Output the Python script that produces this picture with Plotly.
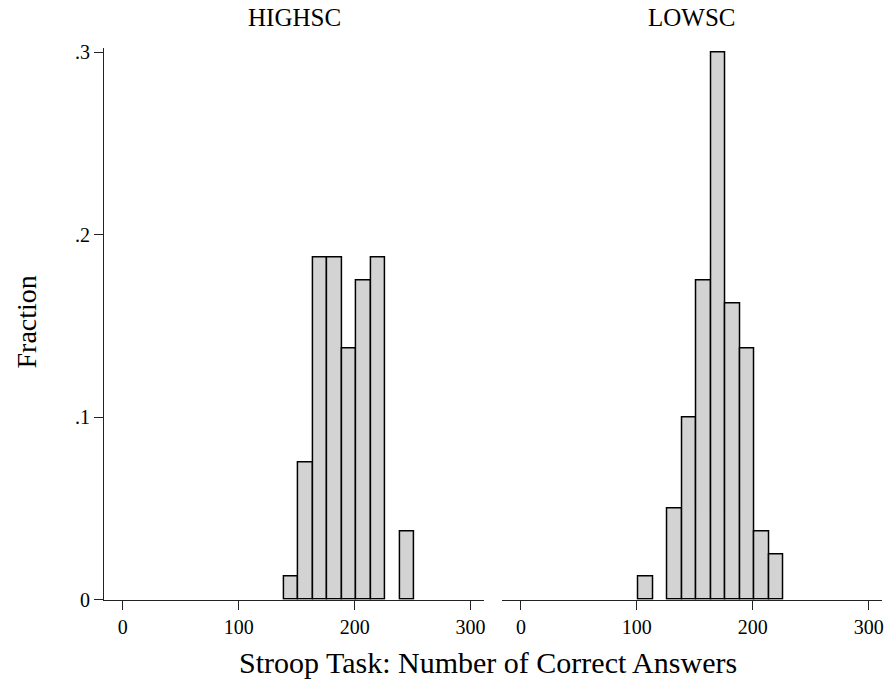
import plotly.graph_objects as go

# Data: histogram bins (width 12.5) and counts (N=80 per group)
bin_start = 101.5
bin_width = 12.5
highsc_counts = [0, 0, 0, 1, 6, 15, 15, 11, 14, 15, 0, 3]
lowsc_counts = [1, 0, 4, 8, 14, 24, 13, 11, 3, 2, 0, 0]
panel_titles = ["HIGHSC", "LOWSC"]
x_ticks = [0, 100, 200, 300]
y_ticks = [0, 0.1, 0.2, 0.3]
y_tick_labels = ["0", ".1", ".2", ".3"]

FONT = "Liberation Serif"
W, H = 886, 688


def bars(counts):
    n = sum(counts)
    xs, ys = [], []
    for i, c in enumerate(counts):
        if c > 0:
            xs.append(bin_start + bin_width * (i + 0.5))
            ys.append(c / n)
    return xs, ys


fig = go.Figure()
for k, counts in enumerate([highsc_counts, lowsc_counts]):
    xs, ys = bars(counts)
    fig.add_trace(go.Bar(
        x=xs, y=ys, width=bin_width,
        marker=dict(color="#d3d3d3", line=dict(color="black", width=1.5)),
        xaxis="x" if k == 0 else "x2",
        yaxis="y" if k == 0 else "y2",
        showlegend=False,
    ))

xr = [-16.1, 311.5]
yr = [0, 0.302]
ydom = [(H - 608.6) / H, (H - 42.6) / H]
left_dom = [104.4 / W, 485.0 / W]
right_dom = [503.4 / W, 884.0 / W]
common_x = dict(range=xr, tickvals=x_ticks, ticks="outside", ticklen=9, tickwidth=1.2,
                tickcolor="#222", showline=True, linecolor="#222", linewidth=1.3,
                showgrid=False, zeroline=False,
                tickfont=dict(family=FONT, size=20, color="black"))
fig.update_layout(
    width=W, height=H,
    margin=dict(l=0, r=0, t=0, b=0),
    paper_bgcolor="white", plot_bgcolor="white",
    bargap=0,
    xaxis=dict(domain=left_dom, anchor="y", **common_x),
    xaxis2=dict(domain=right_dom, anchor="y2", **common_x),
    yaxis=dict(domain=ydom, range=yr, tickvals=y_ticks, ticktext=y_tick_labels,
               ticks="outside", ticklen=9, tickwidth=1.2, tickcolor="#222",
               showline=True, linecolor="#222", linewidth=1.3, showgrid=False,
               zeroline=False, anchor="x",
               tickfont=dict(family=FONT, size=20, color="black")),
    yaxis2=dict(domain=ydom, range=yr, anchor="x2", visible=False, matches="y"),
)

annotations = [
    dict(text=panel_titles[0], x=sum(left_dom) / 2, y=(H - 10.8) / H),
    dict(text=panel_titles[1], x=sum(right_dom) / 2, y=(H - 10.8) / H),
]
for a in annotations:
    fig.add_annotation(xref="paper", yref="paper", showarrow=False,
                       xanchor="center", yanchor="middle",
                       font=dict(family=FONT, size=25, color="black"), **a)

fig.add_annotation(text="Stroop Task: Number of Correct Answers", xref="paper", yref="paper",
                   x=489 / W, y=(H - 673.3) / H, showarrow=False,
                   xanchor="center", yanchor="middle",
                   font=dict(family=FONT, size=30, color="black"))
fig.add_annotation(text="Fraction", xref="paper", yref="paper",
                   x=27 / W, y=(H - 323) / H, showarrow=False, textangle=-90,
                   xanchor="center", yanchor="middle",
                   font=dict(family=FONT, size=28, color="black"))

fig.write_html("out.html")
